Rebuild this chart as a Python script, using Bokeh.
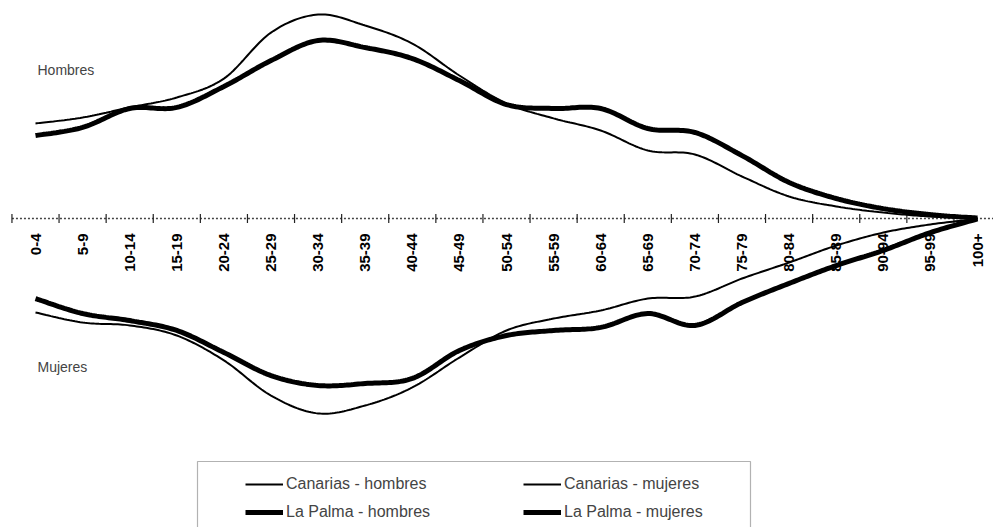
import math
import numpy as np
from bokeh.plotting import figure
from bokeh.models import Range1d, Legend, LegendItem, BoxAnnotation, Label
from bokeh.core.properties import value
from bokeh.embed import file_html
from bokeh.resources import INLINE

# ---- data (share of population by age group) ----
age_groups = ["0-4", "5-9", "10-14", "15-19", "20-24", "25-29", "30-34", "35-39",
              "40-44", "45-49", "50-54", "55-59", "60-64", "65-69", "70-74",
              "75-79", "80-84", "85-89", "90-94", "95-99", "100+"]
canarias_hombres = [4.32, 4.59, 5.05, 5.50, 6.36, 8.45, 9.27, 8.77, 7.95, 6.50, 5.23,
                    4.55, 4.00, 3.09, 2.91, 1.91, 1.00, 0.55, 0.27, 0.09, 0.02]
la_palma_hombres = [3.77, 4.14, 5.00, 5.05, 6.00, 7.18, 8.09, 7.77, 7.27, 6.27, 5.18,
                    5.00, 5.00, 4.09, 3.91, 2.86, 1.64, 0.91, 0.45, 0.18, 0.02]
canarias_mujeres = [4.27, 4.73, 4.86, 5.32, 6.45, 8.05, 8.86, 8.50, 7.68, 6.32, 5.09,
                    4.55, 4.18, 3.64, 3.55, 2.73, 2.00, 1.23, 0.64, 0.27, 0.02]
la_palma_mujeres = [3.64, 4.32, 4.64, 5.09, 6.09, 7.14, 7.59, 7.50, 7.27, 6.00, 5.32,
                    5.09, 4.95, 4.32, 4.86, 3.82, 2.95, 2.14, 1.45, 0.64, 0.02]
legend_labels = ["Canarias - hombres", "Canarias - mujeres",
                 "La Palma - hombres", "La Palma - mujeres"]

FONT = "Liberation Sans"
W, H = 993, 527
PX_X, X0 = 47.1, 35
PX_Y, Y0 = 22.0, 218


def smooth(xs, ys, n=20):
    """Excel-like smoothed line (Bezier through the points, rendering only)."""
    pts = list(zip(xs, ys))
    ox, oy = [], []
    for i in range(len(pts) - 1):
        p0 = pts[i - 1] if i > 0 else pts[i]
        p1 = pts[i]
        p2 = pts[i + 1]
        p3 = pts[i + 2] if i + 2 < len(pts) else pts[i + 1]
        c1 = (p1[0] + (p2[0] - p0[0]) / 6, p1[1] + (p2[1] - p0[1]) / 6)
        c2 = (p2[0] - (p3[0] - p1[0]) / 6, p2[1] - (p3[1] - p1[1]) / 6)
        for t in np.linspace(0, 1, n, endpoint=(i == len(pts) - 2)):
            a = (1 - t) ** 3
            b = 3 * (1 - t) ** 2 * t
            c = 3 * (1 - t) * t ** 2
            d = t ** 3
            ox.append(a * p1[0] + b * c1[0] + c * c2[0] + d * p2[0])
            oy.append(a * p1[1] + b * c1[1] + c * c2[1] + d * p2[1])
    return ox, oy


p = figure(width=W, height=H,
           x_range=Range1d(-X0 / PX_X, (W - X0) / PX_X),
           y_range=Range1d(-(H - Y0) / PX_Y, Y0 / PX_Y),
           output_backend="svg", toolbar_location=None,
           x_axis_location=None, y_axis_location=None,
           min_border=0)
p.grid.visible = False
p.outline_line_color = None
p.background_fill_color = "white"

idx = list(range(len(age_groups)))
n = len(age_groups)

# central category axis
p.line([-0.5, n + 0.5], [0, 0], line_color="#444444", line_width=1.5, line_dash="2 2")
tick_x = [i - 0.5 for i in range(n + 1)]
p.segment(x0=tick_x, y0=[-0.2] * len(tick_x), x1=tick_x, y1=[0.2] * len(tick_x),
          line_color="#222222", line_width=1.2)
p.text(x=idx, y=[0] * n, text=age_groups, angle=math.pi / 2,
       text_align="right", text_baseline="middle", y_offset=15,
       text_font=value(FONT), text_font_size="15px", text_font_style="bold",
       text_color="black")

# series
xs, ys = smooth(idx, canarias_hombres)
r_ch = p.line(xs, ys, line_color="black", line_width=2)
xs, ys = smooth(idx, [-v for v in canarias_mujeres])
r_cm = p.line(xs, ys, line_color="black", line_width=2)
xs, ys = smooth(idx, la_palma_hombres)
r_lh = p.line(xs, ys, line_color="black", line_width=5)
xs, ys = smooth(idx, [-v for v in la_palma_mujeres])
r_lm = p.line(xs, ys, line_color="black", line_width=5)

# side labels
p.add_layout(Label(x=0, y=6.73, text="Hombres", text_font=FONT, text_font_size="14px",
                   text_baseline="middle", text_align="left", x_offset=2))
p.add_layout(Label(x=0, y=-6.73, text="Mujeres", text_font=FONT, text_font_size="14px",
                   text_baseline="middle", text_align="left", x_offset=2))

# legend frame
p.add_layout(BoxAnnotation(left=(197 - X0) / PX_X, right=(750 - X0) / PX_X,
                           top=-(461 - Y0) / PX_Y, bottom=-20,
                           fill_color="white", fill_alpha=1.0,
                           line_color="black", line_width=1.2, level="underlay"))

legend = Legend(items=[LegendItem(label=legend_labels[0], renderers=[r_ch]),
                       LegendItem(label=legend_labels[1], renderers=[r_cm]),
                       LegendItem(label=legend_labels[2], renderers=[r_lh]),
                       LegendItem(label=legend_labels[3], renderers=[r_lm])],
                orientation="horizontal", ncols=2,
                location=(245, 5), padding=0, spacing=8, margin=0,
                glyph_width=38, glyph_height=20, label_standoff=3,
                label_width=229, label_height=20,
                label_text_font=FONT, label_text_font_size="16px",
                border_line_alpha=0, background_fill_alpha=0)
p.add_layout(legend)

open("out.html", "w").write(file_html(p, INLINE))
